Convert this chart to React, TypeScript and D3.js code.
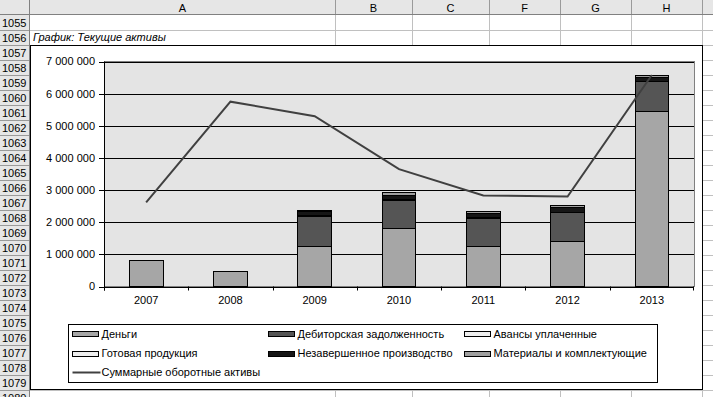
import * as d3 from "d3";

// categories and series
const years = ["2007", "2008", "2009", "2010", "2011", "2012", "2013"];
const money = [810000, 480000, 1260000, 1790000, 1230000, 1385000, 5460000];
const receivables = [0, 0, 920000, 900000, 900000, 910000, 910000];
const advances = [0, 0, 10000, 10000, 10000, 10000, 10000];
const finishedGoods = [0, 0, 10000, 10000, 10000, 10000, 10000];
const wip = [0, 0, 120000, 130000, 110000, 140000, 120000];
const materials = [0, 0, 50000, 70000, 80000, 70000, 70000];
const totalAssets = [2620000, 5750000, 5300000, 3650000, 2830000, 2800000, 6580000];
const yTicks = [0, 1000000, 2000000, 3000000, 4000000, 5000000, 6000000, 7000000];

const seriesNames = [
  "Деньги",
  "Дебиторская задолженность",
  "Авансы уплаченные",
  "Готовая продукция",
  "Незавершенное производство",
  "Материалы и комплектующие",
];
const seriesValues = [money, receivables, advances, finishedGoods, wip, materials];
const seriesColors = ["#a6a6a6", "#555555", "#eeeeee", "#eeeeee", "#161616", "#a0a0a0"];
const lineName = "Суммарные оборотные активы";

// sheet
const colNames = ["A", "B", "C", "F", "G", "H"];
const colEdges = [30, 335, 412, 489, 560, 631, 702, 713];
const firstRow = 1055;
const rowCount = 26;
const rowH = 15;

const font = "'Liberation Sans', Arial, sans-serif";

const fmt = d3.formatLocale({ decimal: ",", thousands: " ", grouping: [3], currency: ["", ""] }).format(",");

export default function App() {
  const W = 713;
  const H = 397;
  const plot = { left: 104, right: 694, top: 61.5, bottom: 286.5 };

  const x = d3.scaleBand().domain(years).range([plot.left, plot.right]).padding(0);
  const y = d3.scaleLinear().domain([0, 7000000]).range([plot.bottom, plot.top]);
  const barW = x.step() / 2.5;

  const table = years.map((yr, i) => {
    const row: any = { year: yr };
    seriesNames.forEach((n, k) => (row[n] = seriesValues[k][i]));
    return row;
  });
  const stacked = d3.stack().keys(seriesNames)(table);

  const line = d3
    .line<number>()
    .x((_, i) => (x(years[i]) as number) + x.step() / 2)
    .y((d) => y(d));

  const rowNums = d3.range(rowCount).map((i) => firstRow + i);

  const legendCols = [72.5, 268.5, 464.5];
  const legendRows = [334, 353.5, 372.5];
  const legendItems = [...seriesNames, lineName];

  return (
    <svg width={W} height={H} style={{ position: "absolute", left: 0, top: 0, background: "#fff" }} fontFamily={font}>
      {/* sheet grid */}
      <rect x={0} y={0} width={W} height={H} fill="#fff" />
      {rowNums.map((r, i) => (
        <line key={"rl" + r} x1={30} x2={W} y1={15 + (i + 1) * rowH + 0.5} y2={15 + (i + 1) * rowH + 0.5} stroke="#c0c0c0" />
      ))}
      {colEdges.slice(1, -1).map((cx) => (
        <line key={"cl" + cx} x1={cx + 0.5} x2={cx + 0.5} y1={15} y2={H} stroke="#c0c0c0" />
      ))}
      {/* column header */}
      <rect x={0} y={0} width={W} height={15} fill="#e6e6e6" />
      {colNames.map((c, i) => (
        <g key={c}>
          <line x1={colEdges[i + 1] + 0.5} x2={colEdges[i + 1] + 0.5} y1={0} y2={15} stroke="#9a9a9a" />
          <text x={(colEdges[i] + colEdges[i + 1]) / 2} y={11.5} textAnchor="middle" fontSize={11}>
            {c}
          </text>
        </g>
      ))}
      <line x1={0} x2={W} y1={14.5} y2={14.5} stroke="#808080" />
      {/* row header */}
      <rect x={0} y={15} width={30} height={H - 15} fill="#e6e6e6" />
      {rowNums.map((r, i) => (
        <g key={"rh" + r}>
          <line x1={0} x2={30} y1={15 + (i + 1) * rowH + 0.5} y2={15 + (i + 1) * rowH + 0.5} stroke="#9a9a9a" />
          <text x={2} y={15 + i * rowH + 11.5} fontSize={11}>
            {r}
          </text>
        </g>
      ))}
      <line x1={29.5} x2={29.5} y1={0} y2={H} stroke="#808080" />
      <text x={33} y={41} fontSize={11} fontStyle="italic">
        График: Текущие активы
      </text>

      {/* chart object */}
      <rect x={30.5} y={45.5} width={672} height={344} fill="#fff" stroke="#000" />
      <rect x={plot.left} y={plot.top} width={plot.right - plot.left} height={plot.bottom - plot.top} fill="#e4e4e4" stroke="#808080" shapeRendering="crispEdges" />
      {yTicks.slice(1).map((t) => (
        <line key={"g" + t} x1={plot.left} x2={plot.right} y1={Math.round(y(t)) + 0.5} y2={Math.round(y(t)) + 0.5} stroke="#000" />
      ))}
      {/* bars */}
      {stacked.map((s, k) => (
        <g key={s.key} fill={seriesColors[k]} stroke="#000" shapeRendering="crispEdges">
          {s.map((d, i) =>
            d[1] - d[0] > 0 ? (
              <rect
                key={i}
                x={(x(years[i]) as number) + (x.step() - barW) / 2}
                y={y(d[1])}
                width={barW}
                height={y(d[0]) - y(d[1])}
              />
            ) : null
          )}
        </g>
      ))}
      {/* total line */}
      <path d={line(totalAssets) as string} fill="none" stroke="#404040" strokeWidth={2} />
      {/* y axis */}
      <line x1={plot.left + 0.5} x2={plot.left + 0.5} y1={plot.top} y2={plot.bottom + 4} stroke="#000" />
      {yTicks.map((t) => (
        <g key={"yt" + t}>
          <line x1={plot.left - 5} x2={plot.left} y1={Math.round(y(t)) + 0.5} y2={Math.round(y(t)) + 0.5} stroke="#000" />
          <text x={95} y={y(t)} dy="0.36em" textAnchor="end" fontSize={11}>
            {fmt(t)}
          </text>
        </g>
      ))}
      {/* x axis */}
      <line x1={plot.left} x2={plot.right} y1={Math.round(plot.bottom) + 0.5} y2={Math.round(plot.bottom) + 0.5} stroke="#000" />
      {years.map((yr, i) => (
        <g key={"xt" + yr}>
          <line
            x1={Math.round(x(yr) as number) + 0.5}
            x2={Math.round(x(yr) as number) + 0.5}
            y1={plot.bottom}
            y2={plot.bottom + 4}
            stroke="#000"
          />
          {i === years.length - 1 ? (
            <line x1={plot.right - 0.5} x2={plot.right - 0.5} y1={plot.bottom} y2={plot.bottom + 4} stroke="#000" />
          ) : null}
          <text x={(x(yr) as number) + x.step() / 2} y={304} textAnchor="middle" fontSize={11}>
            {yr}
          </text>
        </g>
      ))}

      {/* legend */}
      <rect x={68.5} y={324.5} width={589} height={58} fill="#fff" stroke="#000" />
      {legendItems.map((name, i) => {
        const lx = legendCols[i % 3];
        const ly = legendRows[Math.floor(i / 3)];
        return (
          <g key={"lg" + name}>
            {i < seriesNames.length ? (
              <rect x={lx} y={ly - 2.5} width={26} height={5} fill={seriesColors[i]} stroke="#000" shapeRendering="crispEdges" />
            ) : (
              <line x1={lx} x2={lx + 28} y1={ly} y2={ly} stroke="#404040" strokeWidth={2} />
            )}
            <text x={lx + 29} y={ly} dy="0.36em" fontSize={11}>
              {name}
            </text>
          </g>
        );
      })}
    </svg>
  );
}
